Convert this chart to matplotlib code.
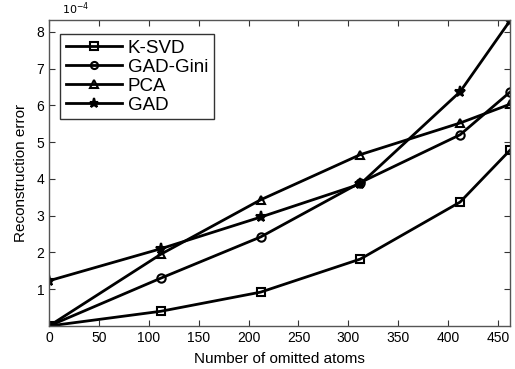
import matplotlib
matplotlib.use("Agg")
import matplotlib.pyplot as plt

plt.rcParams['font.family'] = ['Liberation Sans', 'DejaVu Sans']

atoms = [0, 112, 212, 312, 412, 462]
ksvd = [0.0, 0.40, 0.92, 1.82, 3.37, 4.78]
gad_gini = [0.0, 1.30, 2.42, 3.90, 5.20, 6.36]
pca = [0.0, 1.95, 3.43, 4.66, 5.52, 6.03]
gad = [1.23, 2.10, 2.96, 3.86, 6.37, 8.30]

series = [
    ("K-SVD", ksvd, "s", "none"),
    ("GAD-Gini", gad_gini, "o", "none"),
    ("PCA", pca, "^", "none"),
    ("GAD", gad, "*", "black"),
]

fig = plt.figure(figsize=(5.15, 3.69), dpi=100)
ax = fig.add_axes([49 / 515, 1 - 326 / 369, (510 - 49) / 515, (326 - 20) / 369])

for name, vals, mk, fc in series:
    ax.plot(atoms, vals, color="black", lw=2.0, marker=mk, markersize=6 if mk != "*" else 8,
            markerfacecolor=fc, markeredgecolor="black", markeredgewidth=1.5, label=name)

ax.set_xlim(0, 462)
ax.set_ylim(0, 8.32)
ax.set_xticks(range(0, 451, 50))
ax.set_yticks(range(1, 9))
ax.tick_params(direction="in", top=True, right=True, labelsize=10, length=4, colors="#333333",
               labelcolor="black")
for s in ax.spines.values():
    s.set_color("#555555")
    s.set_linewidth(1.0)

ax.set_xlabel("Number of omitted atoms", fontsize=11, labelpad=5)
ax.set_ylabel("Reconstruction error", fontsize=11, labelpad=6)
ax.text(0.028, 1.01, r"$10^{-4}$", transform=ax.transAxes, fontsize=8, va="bottom")

leg = ax.legend(loc="upper left", bbox_to_anchor=(0.024, 0.955), fontsize=13.5, frameon=True,
                fancybox=False, edgecolor="black", handlelength=3.0, borderpad=0.3,
                labelspacing=0.1, handletextpad=0.3, borderaxespad=0.0, markerscale=0.85)
leg.get_frame().set_linewidth(1.0)

fig.savefig("out.png", dpi=100)
